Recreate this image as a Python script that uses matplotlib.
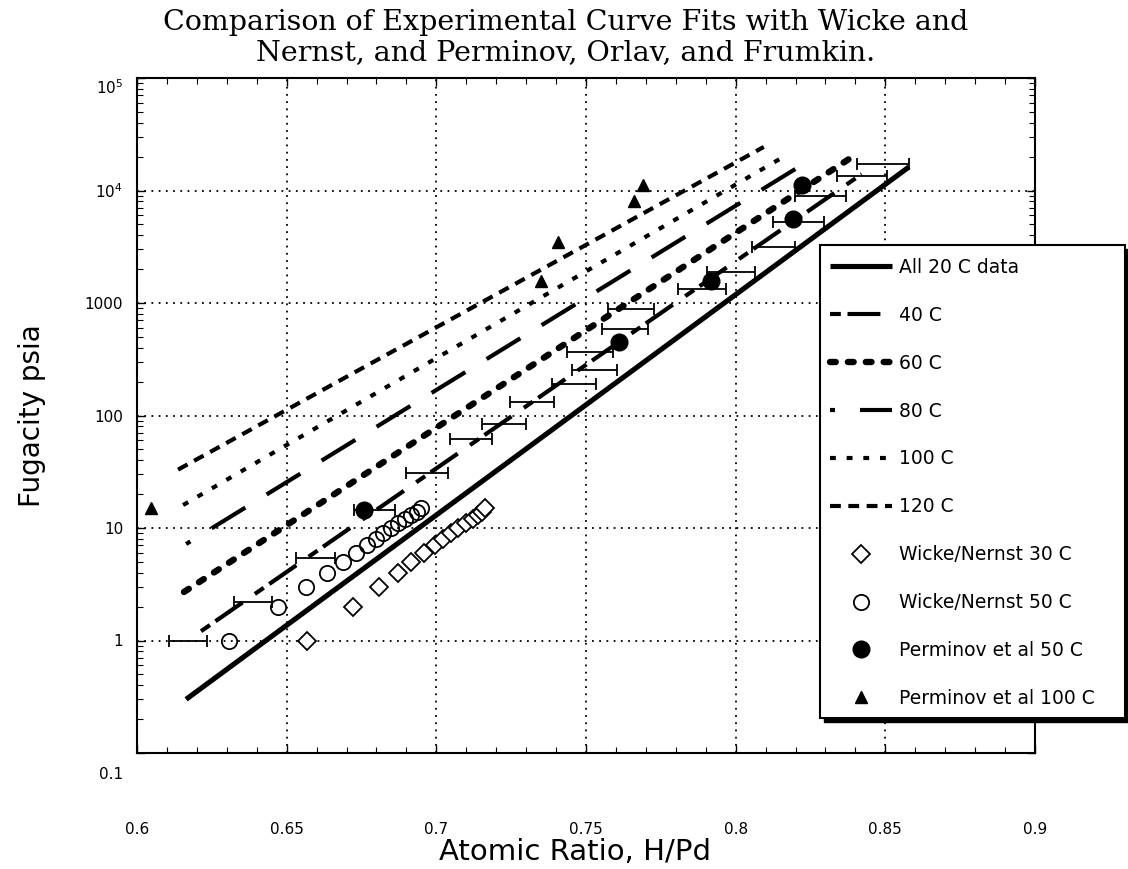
import matplotlib
matplotlib.use("Agg")
import matplotlib.pyplot as plt
from matplotlib.patches import Rectangle
from matplotlib.ticker import FixedLocator, MultipleLocator, LogLocator, NullFormatter
from matplotlib.transforms import ScaledTranslation

plt.rcParams['font.family'] = ['DejaVu Sans']
plt.rcParams['mathtext.default'] = 'regular'

# ---------------- data ----------------
# fitted curves (straight lines on semi-log axes): endpoints
fit_labels = ['All 20 C data', '40 C', '60 C', '80 C', '100 C', '120 C']
fit_x_start = [0.6164, 0.6214, 0.6157, 0.6164, 0.6154, 0.6137]
fit_x_end = [0.8579, 0.8421, 0.8378, 0.8237, 0.8176, 0.8094]
fit_y_start = [0.30, 1.21, 2.7, 7.2, 16.0, 33.0]
fit_y_end = [16200, 14000, 19000, 17900, 21100, 24400]

# 20 C experimental data with horizontal error bars
exp_x = [0.6171, 0.6387, 0.6597, 0.6794, 0.6969, 0.7115, 0.7226, 0.7319, 0.7459, 0.7527,
         0.7513, 0.7630, 0.7651, 0.7888, 0.7985, 0.8125, 0.8210, 0.8284, 0.8421, 0.8492]
exp_y = [1.0, 2.2, 5.4, 14.5, 31, 62, 84, 133, 190, 255,
         369, 588, 885, 1330, 1870, 3130, 5210, 9000, 13500, 17200]
exp_xerr = [0.0064, 0.0064, 0.0065, 0.0069, 0.0070, 0.0071, 0.0072, 0.0074, 0.0074, 0.0075,
            0.0076, 0.0078, 0.0077, 0.0080, 0.0080, 0.0072, 0.0084, 0.0086, 0.0084, 0.0086]

# Wicke / Nernst 30 C
wn30_x = [0.6569, 0.6721, 0.6810, 0.6872, 0.6916, 0.6959, 0.6994, 0.7022, 0.7050, 0.7073,
          0.7100, 0.7123, 0.7139, 0.7151, 0.7161]
wn30_y = [1, 2, 3, 4, 5, 6, 7, 8, 9, 10, 11, 12, 13, 14, 15]

# Wicke / Nernst 50 C
wn50_x = [0.6307, 0.6471, 0.6565, 0.6634, 0.6689, 0.6732, 0.6768, 0.6798, 0.6822, 0.6847,
          0.6872, 0.6894, 0.6916, 0.6936, 0.6950]
wn50_y = [1, 2, 3, 4, 5, 6, 7, 8, 9, 10, 11, 12, 13, 14, 15]

# Perminov et al 50 C
p50_x = [0.6759, 0.7609, 0.7916, 0.8190, 0.8221]
p50_y = [14.5, 450, 1570, 5580, 11200]

# Perminov et al 100 C
p100_x = [0.6047, 0.7351, 0.7408, 0.7661, 0.7691]
p100_y = [15, 1580, 3480, 8130, 11200]

x_ticks = [0.6, 0.65, 0.7, 0.75, 0.8, 0.85, 0.9]
x_ticklabels = ['0.6', '0.65', '0.7', '0.75', '0.8', '0.85', '0.9']
y_ticks = [0.1, 1, 10, 100, 1000, 1e4, 1e5]
y_ticklabels = ['0.1', '1', '10', '100', '1000', '10$^4$', '10$^5$']

# ---------------- styles ----------------
fit_styles = [
    dict(linestyle='-', lw=3.7, solid_capstyle='butt'),
    dict(linestyle=(0, (2.6, 1.6, 7.9, 3.6)), lw=3.0),
    dict(linestyle=(0, (0.9, 1.9)), lw=4.6, dash_capstyle='round'),
    dict(linestyle=(8.3, (9.5, 6.0)), lw=3.0),
    dict(linestyle=(0, (1.4, 2.6)), lw=3.0),
    dict(linestyle=(0, (2.6, 1.8)), lw=3.0),
]

fig = plt.figure(figsize=(11.28, 8.69), dpi=100)
ax = fig.add_axes([137 / 1128, 1 - 753 / 869, (1035 - 137) / 1128, (753 - 78) / 869])
ax.set_yscale('log')
ax.set_xlim(0.6, 0.9)
ax.set_ylim(0.1, 1e5)

handles = []
for lab, xs, xe, ys, ye, st in zip(fit_labels, fit_x_start, fit_x_end, fit_y_start, fit_y_end, fit_styles):
    ln, = ax.plot([xs, xe], [ys, ye], color='black', label=lab, zorder=3, **st)
    handles.append(ln)

ax.errorbar(exp_x, exp_y, xerr=exp_xerr, fmt='none', ecolor='black', elinewidth=1.3,
            capsize=4, capthick=1.3, zorder=4)

h30, = ax.plot(wn30_x, wn30_y, linestyle='none', marker='D', ms=9, mfc='white', mec='black', mew=1.3,
               label='Wicke/Nernst 30 C', zorder=5)
h50, = ax.plot(wn50_x, wn50_y, linestyle='none', marker='o', ms=11, mfc='none', mec='black', mew=1.3,
               label='Wicke/Nernst 50 C', zorder=5)
hp50, = ax.plot(p50_x, p50_y, linestyle='none', marker='o', ms=12, mfc='black', mec='black',
                label='Perminov et al 50 C', zorder=6)
hp100, = ax.plot(p100_x, p100_y, linestyle='none', marker='^', ms=8.5, mfc='black', mec='black',
                 label='Perminov et al 100 C', zorder=6)
handles += [h30, h50, hp50, hp100]

# axes, ticks, grid
ax.xaxis.set_major_locator(FixedLocator(x_ticks))
ax.set_xticklabels(x_ticklabels)
ax.xaxis.set_minor_locator(MultipleLocator(0.01))
ax.yaxis.set_major_locator(FixedLocator(y_ticks))
ax.set_yticklabels(y_ticklabels)
ax.yaxis.set_minor_locator(LogLocator(base=10, subs=range(2, 10), numticks=20))
ax.yaxis.set_minor_formatter(NullFormatter())
ax.tick_params(which='both', direction='in', top=True, right=True, color='black')
ax.tick_params(which='major', length=6, width=1.0)
ax.tick_params(which='minor', length=4, width=0.8)
ax.tick_params(axis='x', which='major', pad=50, labelsize=11)
ax.tick_params(axis='y', which='major', pad=10, labelsize=11)
ax.grid(which='major', color='black', linestyle=(0, (1, 3)), lw=1.3)
for sp in ax.spines.values():
    sp.set_linewidth(1.5)

# nudge end labels on the y axis like the original
yt = ax.yaxis.get_major_ticks()
yt[0].label1.set_transform(yt[0].label1.get_transform() + ScaledTranslation(0, -20 / 100, fig.dpi_scale_trans))
yt[-1].label1.set_transform(yt[-1].label1.get_transform() + ScaledTranslation(0, -8 / 100, fig.dpi_scale_trans))

ax.set_xlabel('Atomic Ratio, H/Pd', fontsize=21)
ax.xaxis.set_label_coords(0.488, -(852 - 753) / 675)
ax.xaxis.label.set_va('center')
ax.set_ylabel('Fugacity psia', fontsize=20)
ax.yaxis.set_label_coords(-(137 - 46) / 898, 0.5)

fig.text(566 / 1128, 1 - 22 / 869, 'Comparison of Experimental Curve Fits with Wicke and',
         family='DejaVu Serif', fontsize=20.5, ha='center', va='center')
fig.text(566 / 1128, 1 - 53 / 869, 'Nernst, and Perminov, Orlav, and Frumkin.',
         family='DejaVu Serif', fontsize=20.5, ha='center', va='center')

# legend box with shadow
fig.patches.append(Rectangle((824 / 1128, 1 - 722 / 869), 305 / 1128, 473 / 869,
                             transform=fig.transFigure, facecolor='black', edgecolor='black', zorder=3))
fig.patches.append(Rectangle((820 / 1128, 1 - 718 / 869), 305 / 1128, 473 / 869,
                             transform=fig.transFigure, facecolor='white', edgecolor='black', lw=1.5, zorder=4))
fig.legend(handles, [h.get_label() for h in handles], loc='upper left',
           bbox_to_anchor=(830 / 1128, 1 - 258 / 869), frameon=False, fontsize=13.5,
           borderpad=0, borderaxespad=0, handlelength=3.3, handletextpad=0.4,
           labelspacing=1.54, numpoints=1).set_zorder(5)

fig.savefig('out.png', dpi=100)
